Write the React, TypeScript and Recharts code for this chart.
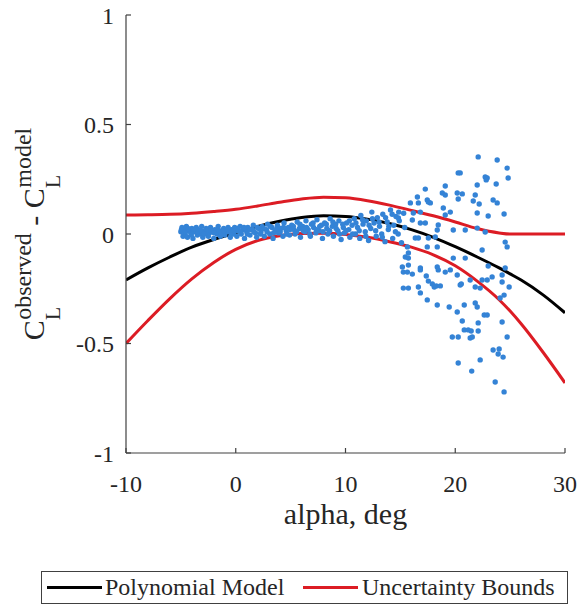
import React from 'react';
import { ComposedChart, XAxis, YAxis, Scatter, Line } from 'recharts';

const FONT = '"Liberation Serif", "Times New Roman", Times, serif';

const xTicks = [-10, 0, 10, 20, 30];
const yTicks = [-1, -0.5, 0, 0.5, 1];

const alphaGrid = [-10, -8, -6, -4, -2, 0, 2, 4, 6, 8, 10, 12, 14, 16, 18, 20, 22, 24, 25, 26, 28, 30];
const polyModel = [-0.21, -0.155, -0.105, -0.06, -0.025, 0.005, 0.035, 0.058, 0.075, 0.083, 0.08, 0.068, 0.048, 0.02, -0.015, -0.058, -0.105, -0.155, -0.182, -0.21, -0.278, -0.36];
const upperBound = [0.087, 0.088, 0.09, 0.095, 0.103, 0.113, 0.128, 0.145, 0.16, 0.168, 0.165, 0.152, 0.132, 0.108, 0.083, 0.055, 0.025, 0.005, 0.0, 0.0, 0.0, 0.0];
const lowerBound = [-0.5, -0.395, -0.295, -0.205, -0.13, -0.07, -0.03, -0.008, 0.002, 0.003, -0.002, -0.015, -0.035, -0.06, -0.095, -0.145, -0.215, -0.3, -0.352, -0.41, -0.54, -0.68];

const bandPoints: [number, number][] = [
  [-5.0, 0.01], [-4.9, 0.03], [-4.8, -0.01], [-4.7, 0.02], [-4.6, 0.0], [-4.5, 0.035], [-4.4, -0.015], [-4.3, 0.015],
  [-4.1, 0.005], [-4.0, 0.025], [-3.9, -0.02], [-3.8, 0.01], [-3.6, 0.03], [-3.5, -0.005], [-3.4, 0.02], [-3.2, 0.0],
  [-3.1, 0.035], [-3.0, -0.015], [-2.8, 0.015], [-2.7, 0.025], [-2.5, -0.01], [-2.4, 0.005], [-2.3, 0.03], [-2.1, 0.01],
  [-2.0, -0.02], [-1.9, 0.02], [-1.7, 0.0], [-1.6, 0.035], [-1.4, -0.01], [-1.3, 0.015], [-1.1, 0.025], [-1.0, -0.005],
  [-0.8, 0.01], [-0.7, 0.03], [-0.5, -0.015], [-0.4, 0.02], [-0.2, 0.0], [-0.1, 0.03],
  [0.1, -0.01], [0.2, 0.015], [0.4, 0.035], [0.5, 0.0], [0.7, 0.02], [0.8, -0.02], [1.0, 0.01], [1.1, 0.03],
  [1.3, -0.005], [1.5, 0.02], [1.6, 0.04], [1.8, 0.005], [1.9, -0.015], [2.1, 0.025], [2.3, 0.01], [2.4, 0.035],
  [2.6, -0.01], [2.8, 0.02], [2.9, 0.045], [3.1, 0.0], [3.3, 0.03], [3.4, -0.02], [3.6, 0.015], [3.8, 0.04],
  [3.9, 0.005], [4.1, 0.025], [4.3, -0.01], [4.4, 0.05], [4.6, 0.015], [4.8, 0.03], [4.9, -0.005], [5.1, 0.04],
  [5.3, 0.02], [5.4, 0.0], [5.6, 0.055], [5.8, 0.025], [5.9, -0.015], [6.1, 0.035], [6.3, 0.01], [6.4, 0.06],
  [6.6, 0.02], [6.8, -0.01], [6.9, 0.045], [7.1, 0.03], [7.3, 0.005], [7.4, 0.065], [7.6, 0.015], [7.8, 0.04],
  [7.9, -0.02], [8.1, 0.05], [8.3, 0.025], [8.4, 0.0], [8.6, 0.07], [8.8, 0.035], [8.9, -0.01], [9.1, 0.045],
  [9.3, 0.015], [9.4, 0.06], [9.6, -0.025], [9.8, 0.03], [9.9, 0.005], [10.1, 0.05], [10.3, 0.02], [10.4, -0.015],
  [10.6, 0.04], [10.8, 0.07], [10.9, 0.0], [11.1, 0.03], [11.3, -0.02], [11.4, 0.085], [11.6, 0.045], [11.8, 0.01],
  [11.9, 0.06], [12.1, -0.03], [12.3, 0.025], [12.4, 0.1], [12.6, 0.05], [12.8, -0.01], [12.9, 0.075], [13.1, 0.035],
  [13.3, 0.0], [13.4, 0.09], [13.6, -0.035], [13.8, 0.055], [13.9, 0.02], [14.1, 0.11], [14.3, -0.02], [14.4, 0.04],
  [14.6, 0.08], [14.8, 0.0], [14.9, 0.06], [15.1, -0.04], [15.3, 0.095], [15.4, 0.03],
];

const bandFill: [number, number][] = [
  [-4.95, 0.02], [-4.65, 0.01], [-4.35, 0.025], [-4.05, -0.005], [-3.75, 0.02], [-3.45, 0.01], [-3.15, 0.015],
  [-2.85, 0.0], [-2.55, 0.02], [-2.25, 0.015], [-1.95, 0.005], [-1.65, 0.02], [-1.35, 0.0], [-1.05, 0.015],
  [-0.75, 0.02], [-0.45, 0.005], [-0.15, 0.015], [0.15, 0.025], [0.45, 0.01], [0.75, 0.03], [1.05, 0.0],
  [1.35, 0.02], [1.65, 0.01], [1.95, 0.03], [2.25, 0.0], [2.55, 0.025], [2.85, 0.01], [3.15, 0.035], [3.45, 0.005],
  [3.75, 0.025], [4.05, 0.01], [4.35, 0.03], [4.65, 0.0], [4.95, 0.02], [5.25, 0.035], [5.55, 0.01], [5.85, 0.045],
  [6.15, 0.015], [6.45, 0.03], [6.75, 0.0], [7.05, 0.05], [7.35, 0.02], [7.65, 0.035], [7.95, 0.01], [8.25, 0.045],
  [8.55, 0.015], [8.85, 0.055], [9.15, 0.025], [9.45, 0.0], [9.75, 0.045], [10.05, 0.015], [10.35, 0.06],
  [10.65, 0.0], [10.95, 0.05], [11.25, 0.015], [11.55, 0.065], [11.85, -0.01], [12.15, 0.04], [12.45, 0.07],
  [12.75, 0.015], [13.05, 0.055], [13.35, -0.015], [13.65, 0.075], [13.95, 0.035], [14.25, 0.09], [14.55, 0.01],
  [14.85, 0.1],
];

const spreadPoints: [number, number][] = [
  [20.27, 0.279], [19.09, 0.219], [17.27, 0.205], [18.82, 0.187], [19.09, 0.178], [20.18, 0.187], [17.45, 0.155],
  [17.55, 0.146], [17.73, 0.142], [16.55, 0.169], [16.64, 0.142], [15.91, 0.142], [18.91, 0.119], [19.09, 0.087],
  [19.55, 0.1], [16.18, 0.096], [16.82, 0.1], [16.09, 0.064], [16.82, 0.05], [17.27, 0.05], [18.45, 0.041],
  [18.36, 0.018], [19.82, 0.018], [14.82, 0.073], [16.36, -0.018], [16.64, -0.018], [17.55, -0.018], [18.18, -0.014],
  [15.64, -0.059], [15.73, -0.087], [17.45, -0.059], [18.36, -0.059], [15.45, -0.105], [15.73, -0.11], [19.82, -0.11],
  [15.18, -0.151], [15.73, -0.142], [18.36, -0.151], [16.82, -0.155], [19.55, -0.164],
  [15.27, -0.174], [15.64, -0.174], [16.09, -0.183], [16.82, -0.164], [18.45, -0.164], [19.09, -0.174], [20.18, -0.187],
  [17.36, -0.192], [17.55, -0.215], [17.91, -0.228], [18.09, -0.242], [18.27, -0.237], [18.64, -0.237], [15.27, -0.247],
  [15.73, -0.247], [16.64, -0.242], [16.82, -0.269], [20.45, -0.233], [17.45, -0.301], [18.36, -0.324], [19.45, -0.333],
  [20.18, -0.356], [19.73, -0.47], [20.27, -0.47], [20.27, -0.589],
  [22.09, 0.352], [23.82, 0.338], [20.45, 0.279], [24.73, 0.301], [22.73, 0.26], [22.91, 0.256], [22.82, 0.247],
  [24.82, 0.256], [22.0, 0.224], [23.73, 0.228], [20.64, 0.183], [21.82, 0.178], [20.27, 0.16], [21.64, 0.151],
  [22.18, 0.137], [23.45, 0.155], [23.82, 0.142], [22.0, 0.096], [23.0, 0.082], [24.45, 0.091], [20.91, 0.018],
  [22.0, 0.027], [22.73, 0.009], [24.55, -0.037], [24.73, -0.059], [22.45, -0.073], [20.91, -0.11], [23.0, -0.146],
  [24.55, -0.155],
  [20.55, -0.228], [21.36, -0.21], [21.82, -0.242], [22.27, -0.247], [22.45, -0.21], [22.91, -0.21], [23.36, -0.196],
  [24.27, -0.187], [24.27, -0.219], [24.91, -0.242], [24.45, -0.279], [24.09, -0.292], [20.82, -0.324], [21.82, -0.315],
  [22.0, -0.333], [22.64, -0.37], [22.91, -0.37], [20.64, -0.397], [22.09, -0.406], [24.27, -0.402], [20.82, -0.438],
  [21.18, -0.438], [21.45, -0.443], [22.09, -0.443], [21.36, -0.475], [21.55, -0.47], [24.73, -0.47], [23.45, -0.53],
  [24.0, -0.525], [23.91, -0.548], [24.36, -0.562], [22.27, -0.575], [21.5, -0.626], [23.64, -0.676], [24.45, -0.721],
];

const scatterData = [...bandPoints, ...bandFill, ...spreadPoints].map(([x, y]) => ({ x, y }));
const polyData = alphaGrid.map((x, i) => ({ x, y: polyModel[i] }));
const upperData = alphaGrid.map((x, i) => ({ x, y: upperBound[i] }));
const lowerData = alphaGrid.map((x, i) => ({ x, y: lowerBound[i] }));

const BLUE = '#3483d6';
const RED = '#dc1c24';
const AXIS = '#404040';
const TEXT = '#262626';

const Dot = (props: any) => {
  const { cx, cy } = props;
  if (cx == null || cy == null) return null;
  return <circle cx={cx} cy={cy} r={2.7} fill={BLUE} />;
};

const YLabel = (props: any) => {
  const vb = props.viewBox || { x: 0, y: 15, width: 126, height: 438 };
  const cy = vb.y + vb.height / 2;
  return (
    <text
      transform={`translate(44, ${cy}) rotate(-90)`}
      textAnchor="middle"
      fontFamily={FONT}
      fill={TEXT}
      fontSize={30}
    >
      <tspan>C</tspan>
      <tspan fontSize={22} dy={16}>L</tspan>
      <tspan fontSize={24} dx={-13} dy={-29}>observed</tspan>
      <tspan fontSize={30} dy={13}> - C</tspan>
      <tspan fontSize={22} dy={16}>L</tspan>
      <tspan fontSize={24} dx={-13} dy={-29}>model</tspan>
    </text>
  );
};

const XLabel = (props: any) => {
  const vb = props.viewBox || { x: 126, y: 453, width: 439, height: 153 };
  return (
    <text x={vb.x + vb.width / 2} y={vb.y + 71} textAnchor="middle" fontFamily={FONT} fontSize={30} fill={TEXT}>
      alpha, deg
    </text>
  );
};

const tickStyle = { fontSize: 24, fill: TEXT, fontFamily: FONT };

export default function App() {
  return (
    <div style={{ position: 'absolute', left: 0, top: 0, width: 582, height: 606, background: '#fff' }}>
      <ComposedChart width={582} height={606} margin={{ top: 15, right: 17, bottom: 0, left: 0 }}>
        <XAxis
          xAxisId="b"
          type="number"
          dataKey="x"
          domain={[-10, 30]}
          ticks={xTicks}
          allowDataOverflow
          height={153}
          tickSize={-5}
          tickMargin={27}
          tick={tickStyle}
          axisLine={{ stroke: AXIS, strokeWidth: 1.2 }}
          tickLine={{ stroke: AXIS, strokeWidth: 1.2 }}
          label={<XLabel />}
        />
        <XAxis
          xAxisId="t"
          orientation="top"
          type="number"
          dataKey="x"
          domain={[-10, 30]}
          ticks={xTicks}
          allowDataOverflow
          height={0}
          tickSize={-5}
          tick={false}
          axisLine={{ stroke: AXIS, strokeWidth: 1.2 }}
          tickLine={{ stroke: AXIS, strokeWidth: 1.2 }}
        />
        <YAxis
          yAxisId="l"
          type="number"
          dataKey="y"
          domain={[-1, 1]}
          ticks={yTicks}
          allowDataOverflow
          width={126}
          tickSize={-5}
          tickMargin={17}
          tick={tickStyle}
          axisLine={{ stroke: AXIS, strokeWidth: 1.2 }}
          tickLine={{ stroke: AXIS, strokeWidth: 1.2 }}
          label={<YLabel />}
        />
        <YAxis
          yAxisId="r"
          orientation="right"
          type="number"
          dataKey="y"
          domain={[-1, 1]}
          ticks={yTicks}
          allowDataOverflow
          width={0}
          tickSize={-5}
          tick={false}
          axisLine={{ stroke: AXIS, strokeWidth: 1.2 }}
          tickLine={{ stroke: AXIS, strokeWidth: 1.2 }}
        />
        <Scatter
          xAxisId="b"
          yAxisId="l"
          data={scatterData}
          shape={<Dot />}
          isAnimationActive={false}
        />
        <Line xAxisId="b" yAxisId="l" data={polyData} dataKey="y" type="monotone" stroke="#000" strokeWidth={3} dot={false} isAnimationActive={false} />
        <Line xAxisId="b" yAxisId="l" data={upperData} dataKey="y" type="monotone" stroke={RED} strokeWidth={3} dot={false} isAnimationActive={false} />
        <Line xAxisId="b" yAxisId="l" data={lowerData} dataKey="y" type="monotone" stroke={RED} strokeWidth={3} dot={false} isAnimationActive={false} />
      </ComposedChart>
      <div
        style={{
          position: 'absolute',
          left: 41,
          top: 571,
          width: 525,
          height: 31,
          border: `1.5px solid ${AXIS}`,
          background: '#fff',
          fontFamily: FONT,
          fontSize: 24,
          color: TEXT,
        }}
      >
        <div style={{ position: 'absolute', left: 5, top: 14, width: 55, height: 3, background: '#000' }} />
        <div style={{ position: 'absolute', left: 63, top: 0, lineHeight: '31px', whiteSpace: 'nowrap' }}>Polynomial Model</div>
        <div style={{ position: 'absolute', left: 261, top: 14, width: 55, height: 3, background: RED }} />
        <div style={{ position: 'absolute', left: 320, top: 0, lineHeight: '31px', whiteSpace: 'nowrap' }}>Uncertainty Bounds</div>
      </div>
    </div>
  );
}
